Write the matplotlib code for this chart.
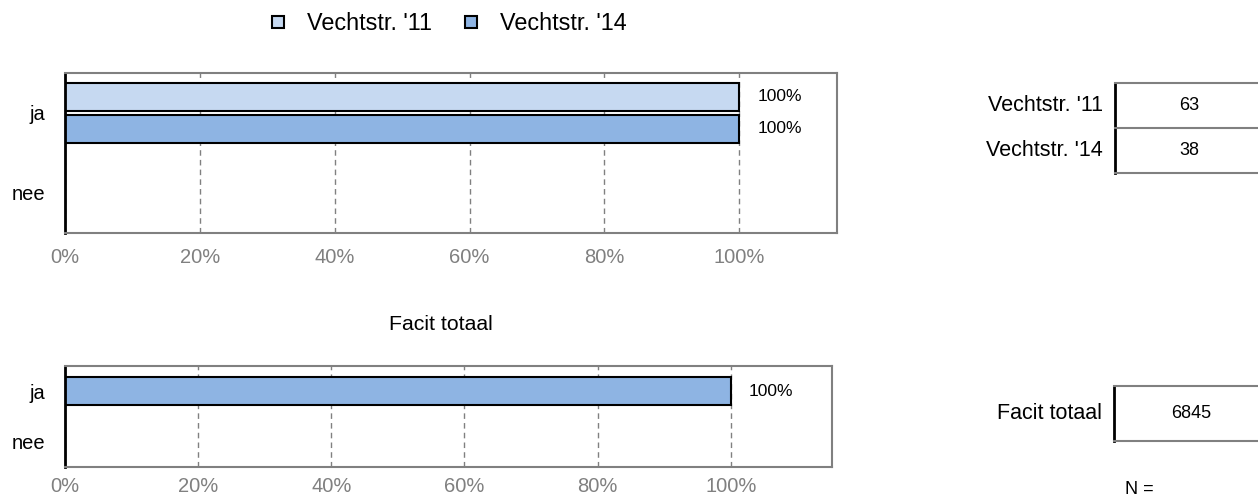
import matplotlib.pyplot as plt
from matplotlib.lines import Line2D

plt.rcParams['font.family'] = ['Liberation Sans', 'DejaVu Sans']

categories = ['ja', 'nee']
series_names = ["Vechtstr. '11", "Vechtstr. '14"]
vals_11 = [1.00, 0.0]
vals_14 = [1.00, 0.0]
totaal_name = 'Facit totaal'
vals_totaal = [1.00, 0.0]
n_series = [63, 38]
n_totaal = [6845]
ticks = [0, 0.2, 0.4, 0.6, 0.8, 1.0]
tick_labels = ['0%', '20%', '40%', '60%', '80%', '100%']

c11 = '#C6D9F1'
c14 = '#8EB4E3'
grey = '#808080'

fig = plt.figure(figsize=(12.58, 5.0), dpi=100)


def style_axes(ax, xmax, xpad):
    ax.set_xlim(0, xmax)
    ax.set_ylim(1.5, -0.5)
    ax.set_xticks(ticks)
    ax.set_xticklabels(tick_labels, color=grey, fontsize=14.5)
    ax.set_yticks(range(len(categories)))
    ax.set_yticklabels(categories, fontsize=14.5)
    ax.tick_params(axis='x', length=0, pad=xpad)
    ax.tick_params(axis='y', length=0, pad=14)
    ax.grid(axis='x', linestyle=(0, (4, 3)), color=grey, linewidth=1)
    ax.set_axisbelow(True)
    for s in ['top', 'right', 'bottom']:
        ax.spines[s].set_color(grey)
        ax.spines[s].set_linewidth(1.5)
    ax.spines['left'].set_color('black')
    ax.spines['left'].set_linewidth(2)


def label_bars(ax, bars, vals):
    for b, v in zip(bars, vals):
        if v > 0:
            ax.annotate('{:.0%}'.format(v), (b.get_width(), b.get_y() + b.get_height() / 2),
                        xytext=(13, 0), textcoords='offset points',
                        ha='left', va='center', fontsize=12.5)


# top chart
ax1 = fig.add_axes([65 / 1258, 1 - 233 / 500, (837 - 65) / 1258, 160 / 500])
y = list(range(len(categories)))
b1 = ax1.barh([i - 0.2 for i in y], vals_11, height=0.34, color=c11,
              edgecolor='black', linewidth=1.5)
b2 = ax1.barh([i + 0.2 for i in y], vals_14, height=0.34, color=c14,
              edgecolor='black', linewidth=1.5)
style_axes(ax1, 1.145, 11)
label_bars(ax1, b1, vals_11)
label_bars(ax1, b2, vals_14)

# bottom chart
ax2 = fig.add_axes([65 / 1258, 1 - 467 / 500, (832 - 65) / 1258, 101 / 500])
b3 = ax2.barh(y, vals_totaal, height=0.55, color=c14, edgecolor='black', linewidth=1.5)
style_axes(ax2, 1.152, 7)
label_bars(ax2, b3, vals_totaal)
fig.text(441 / 1258, 1 - 324 / 500, totaal_name, ha='center', va='center', fontsize=15.3)

# legend
handles = [Line2D([], [], marker='s', linestyle='none', markersize=8,
                  markerfacecolor=c, markeredgecolor='black', markeredgewidth=1.5)
           for c in [c11, c14]]
fig.legend(handles, series_names, loc='center', bbox_to_anchor=(448 / 1258, 1 - 24 / 500),
           ncol=2, frameon=False, fontsize=16.8, handlelength=0.7, handletextpad=0.9,
           columnspacing=1.3)

# N tables
ov = fig.add_axes([0, 0, 1, 1])
ov.set_xlim(0, 1258)
ov.set_ylim(500, 0)
ov.axis('off')

row_h = 45
top = 83
ov.plot([1115, 1115], [top, top + row_h * len(n_series)], color='black', lw=2)
for i in range(len(n_series) + 1):
    ov.plot([1115, 1258], [top + i * row_h, top + i * row_h], color=grey, lw=1.5)
for i, (name, n) in enumerate(zip(series_names, n_series)):
    yc = top + i * row_h + row_h / 2
    ov.text(1103, yc, name, ha='right', va='center', fontsize=15.5)
    ov.text(1189, yc, str(n), ha='center', va='center', fontsize=13)

top2 = 386
ov.plot([1114, 1114], [top2, top2 + 55], color='black', lw=2)
for yy in [top2, top2 + 55]:
    ov.plot([1114, 1258], [yy, yy], color=grey, lw=1.5)
ov.text(1102, top2 + 27.5, totaal_name, ha='right', va='center', fontsize=15.5)
ov.text(1191, top2 + 27.5, str(n_totaal[0]), ha='center', va='center', fontsize=13)
ov.text(1139, 490, 'N =', ha='center', va='center', fontsize=13)

fig.savefig('out.png', dpi=100)
